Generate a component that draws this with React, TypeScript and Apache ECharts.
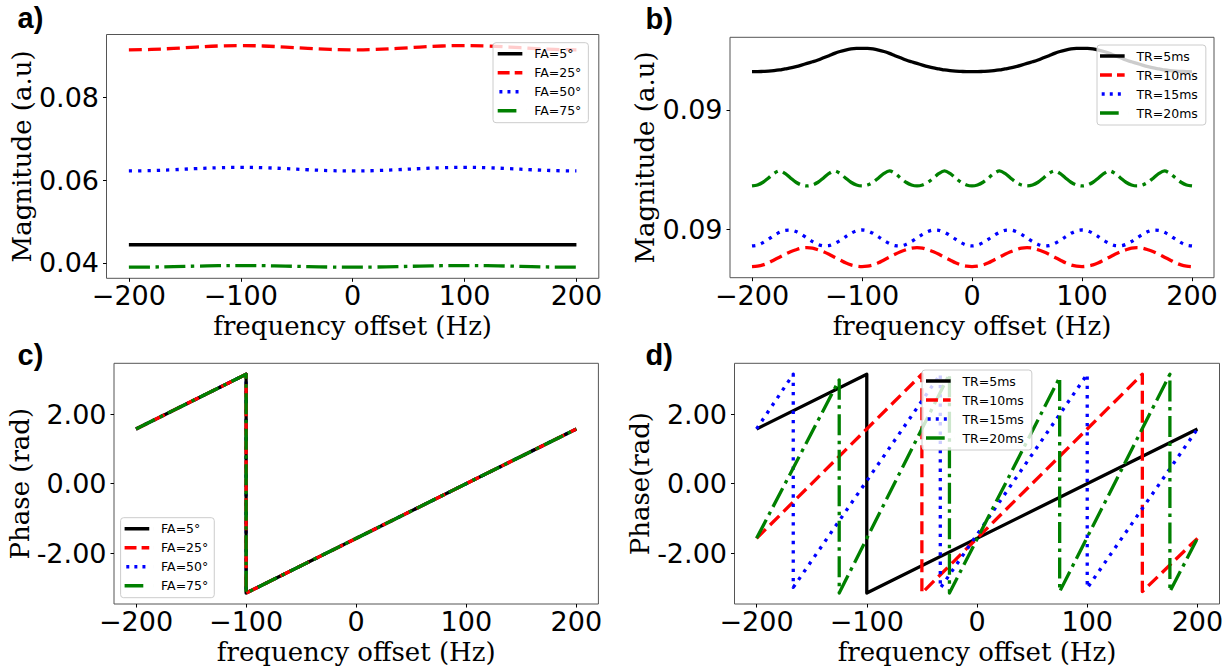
import React, { useEffect, useRef } from "react";
import * as echarts from "echarts";

// ---------- names, colours ----------
const FA_NAMES = ["FA=5°", "FA=25°", "FA=50°", "FA=75°"];
const TR_NAMES = ["TR=5ms", "TR=10ms", "TR=15ms", "TR=20ms"];
const COLORS = ["#000000", "#ff0000", "#0000ff", "#008000"];

// ---------- ticks ----------
const X_TICKS = [-200, -100, 0, 100, 200];
const A_Y_TICKS = [0.04, 0.06, 0.08];
const B_Y_TICKS = [0.089, 0.09];
const PHASE_TICKS = [-2, 0, 2];

// ---------- panel a: magnitude vs FA ----------
const F_A = [-200, -180, -160, -140, -120, -100, -80, -60, -40, -20, 0, 20, 40, 60, 80, 100, 120, 140, 160, 180, 200];
const A_FA5 = [0.04439, 0.04439, 0.04439, 0.04439, 0.04439, 0.04439, 0.04439, 0.04439, 0.04439, 0.04439, 0.04439, 0.04439, 0.04439, 0.04439, 0.04439, 0.04439, 0.04439, 0.04439, 0.04439, 0.04439, 0.04439];
const A_FA25 = [0.091583, 0.091681, 0.091939, 0.092258, 0.092516, 0.092614, 0.092516, 0.092258, 0.091939, 0.091681, 0.091583, 0.091681, 0.091939, 0.092258, 0.092516, 0.092614, 0.092516, 0.092258, 0.091939, 0.091681, 0.091583];
const A_FA50 = [0.062254, 0.062336, 0.062552, 0.06282, 0.063036, 0.063118, 0.063036, 0.06282, 0.062552, 0.062336, 0.062254, 0.062336, 0.062552, 0.06282, 0.063036, 0.063118, 0.063036, 0.06282, 0.062552, 0.062336, 0.062254];
const A_FA75 = [0.038945, 0.038984, 0.039086, 0.039212, 0.039314, 0.039353, 0.039314, 0.039212, 0.039086, 0.038984, 0.038945, 0.038984, 0.039086, 0.039212, 0.039314, 0.039353, 0.039314, 0.039212, 0.039086, 0.038984, 0.038945];

// ---------- panel b: magnitude vs TR (5 Hz sampling grid) ----------
const F_B = Array.from({ length: 81 }, (_, i) => -200 + 5 * i);
const B_TR5 = [
  0.090321, 0.090321, 0.090323, 0.090325, 0.090329, 0.090335, 0.090344, 0.090352, 0.090363, 0.090376, 0.09039, 0.090404, 0.090419, 0.090437, 0.090455, 0.090474, 0.09049, 0.090502, 0.090511, 0.090516, 0.090517,
  0.090516, 0.090511, 0.090502, 0.09049, 0.090474, 0.090455, 0.090437, 0.090419, 0.090404, 0.09039, 0.090376, 0.090363, 0.090352, 0.090344, 0.090335, 0.090329, 0.090325, 0.090323, 0.090321, 0.090321,
  0.090321, 0.090323, 0.090325, 0.090329, 0.090335, 0.090344, 0.090352, 0.090363, 0.090376, 0.09039, 0.090404, 0.090419, 0.090437, 0.090455, 0.090474, 0.09049, 0.090502, 0.090511, 0.090516, 0.090517,
  0.090516, 0.090511, 0.090502, 0.09049, 0.090474, 0.090455, 0.090437, 0.090419, 0.090404, 0.09039, 0.090376, 0.090363, 0.090352, 0.090344, 0.090335, 0.090329, 0.090325, 0.090323, 0.090321, 0.090321,
];
const B_TR10 = [
  0.088687, 0.088691, 0.088701, 0.088719, 0.088743, 0.088766, 0.08879, 0.088811, 0.088828, 0.088842, 0.088846, 0.088842, 0.088828, 0.088811, 0.08879, 0.088766, 0.088743, 0.088719, 0.088701, 0.088691,
  0.088687, 0.088691, 0.088701, 0.088719, 0.088743, 0.088766, 0.08879, 0.088811, 0.088828, 0.088842, 0.088846, 0.088842, 0.088828, 0.088811, 0.08879, 0.088766, 0.088743, 0.088719, 0.088701, 0.088691,
  0.088687, 0.088691, 0.088701, 0.088719, 0.088743, 0.088766, 0.08879, 0.088811, 0.088828, 0.088842, 0.088846, 0.088842, 0.088828, 0.088811, 0.08879, 0.088766, 0.088743, 0.088719, 0.088701, 0.088691,
  0.088687, 0.088691, 0.088701, 0.088719, 0.088743, 0.088766, 0.08879, 0.088811, 0.088828, 0.088842, 0.088846, 0.088842, 0.088828, 0.088811, 0.08879, 0.088766, 0.088743, 0.088719, 0.088701, 0.088691,
  0.088687,
];
const B_TR15 = [
  0.08886, 0.088867, 0.088888, 0.088917, 0.088948, 0.088974, 0.088991, 0.088993, 0.088981, 0.088957, 0.088927, 0.088897, 0.088873, 0.088861, 0.088863, 0.08888, 0.088906, 0.088937, 0.088966, 0.088987, 0.088994,
  0.088987, 0.088966, 0.088937, 0.088906, 0.08888, 0.088863, 0.088861, 0.088873, 0.088897, 0.088927, 0.088957, 0.088981, 0.088993, 0.088991, 0.088974, 0.088948, 0.088917, 0.088888, 0.088867, 0.08886,
  0.088867, 0.088888, 0.088917, 0.088948, 0.088974, 0.088991, 0.088993, 0.088981, 0.088957, 0.088927, 0.088897, 0.088873, 0.088861, 0.088863, 0.08888, 0.088906, 0.088937, 0.088966, 0.088987, 0.088994,
  0.088987, 0.088966, 0.088937, 0.088906, 0.08888, 0.088863, 0.088861, 0.088873, 0.088897, 0.088927, 0.088957, 0.088981, 0.088993, 0.088991, 0.088974, 0.088948, 0.088917, 0.088888, 0.088867, 0.08886,
];
const B_TR20 = [
  0.089363, 0.089371, 0.089394, 0.08943, 0.089468, 0.089489, 0.089468, 0.08943, 0.089394, 0.089371,
  0.089363, 0.089371, 0.089394, 0.08943, 0.089468, 0.089489, 0.089468, 0.08943, 0.089394, 0.089371,
  0.089363, 0.089371, 0.089394, 0.08943, 0.089468, 0.089489, 0.089468, 0.08943, 0.089394, 0.089371,
  0.089363, 0.089371, 0.089394, 0.08943, 0.089468, 0.089489, 0.089468, 0.08943, 0.089394, 0.089371,
  0.089363, 0.089371, 0.089394, 0.08943, 0.089468, 0.089489, 0.089468, 0.08943, 0.089394, 0.089371,
  0.089363, 0.089371, 0.089394, 0.08943, 0.089468, 0.089489, 0.089468, 0.08943, 0.089394, 0.089371,
  0.089363, 0.089371, 0.089394, 0.08943, 0.089468, 0.089489, 0.089468, 0.08943, 0.089394, 0.089371,
  0.089363, 0.089371, 0.089394, 0.08943, 0.089468, 0.089489, 0.089468, 0.08943, 0.089394, 0.089371,
  0.089363,
];

// ---------- panel c: phase vs FA (vertices) ----------
const C_F = [-200, -100, -100, 200];
const C_FA5 = [1.571, 3.142, -3.142, 1.571];
const C_FA25 = [1.571, 3.142, -3.142, 1.571];
const C_FA50 = [1.571, 3.142, -3.142, 1.571];
const C_FA75 = [1.571, 3.142, -3.142, 1.571];

// ---------- panel d: phase vs TR (vertices) ----------
const D_TR5_F = [-200, -100, -100, 200];
const D_TR5 = [1.571, 3.142, -3.142, 1.571];
const D_TR10_F = [-200, -50, -50, 150, 150, 200];
const D_TR10 = [-1.571, 3.142, -3.142, 3.142, -3.1, -1.571];
const D_TR15_F = [-200, -166.7, -166.7, -33.3, -33.3, 100, 100, 200];
const D_TR15 = [1.571, 3.142, -2.98, 3.142, -3.0, 3.142, -3.0, 1.571];
const D_TR20_F = [-200, -125, -125, -25, -25, 75, 75, 175, 175, 200];
const D_TR20 = [-1.571, 2.98, -3.142, 3.142, -3.142, 3.05, -3.1, 3.142, -3.1, -1.571];

// ---------- styles ----------
const LINE_TYPES: any[] = ["solid", [13, 6], [3.3, 6], [21, 5.5, 3.5, 5.5]];
const ICONS = [
  "path://M0,0H29V4H0Z M33.99,0H34V4H33.99Z",
  "path://M0,0H14V4H0Z M20,0H29V4H20Z M33.99,0H34V4H33.99Z",
  "path://M0,0H0.01V4H0Z M2,0H5.5V4H2Z M11.5,0H15V4H11.5Z M21,0H24.5V4H21Z M33.99,0H34V4H33.99Z",
  "path://M0,0H22V4H0Z M33.99,0H34V4H33.99Z",
];
const SANS = "DejaVu Sans";
const SERIF = "DejaVu Serif";

const fmtX = (v: number) => (v < 0 ? "\u2212" + Math.abs(v) : String(v));
const fmt2 = (v: number) => v.toFixed(2);

function grid(left: number, top: number, width: number, height: number) {
  return { left, top, width, height, show: true, borderColor: "#555", borderWidth: 1, backgroundColor: "transparent", containLabel: false };
}

function xAxis(gridIndex: number) {
  return {
    type: "value", gridIndex, min: -220, max: 220, position: "bottom",
    name: "frequency offset (Hz)", nameLocation: "middle", nameGap: 35,
    nameTextStyle: { fontFamily: SERIF, fontSize: 26, color: "#000" },
    axisLine: { show: false, onZero: false },
    axisTick: { show: true, inside: false, length: 3.5, customValues: X_TICKS, lineStyle: { color: "#000", width: 1 } },
    axisLabel: { customValues: X_TICKS, formatter: fmtX, fontFamily: SANS, fontSize: 27, color: "#000", margin: 4 },
    splitLine: { show: false },
  };
}

function yAxis(gridIndex: number, name: string, min: number, max: number, ticks: number[], nameGap: number) {
  return {
    type: "value", gridIndex, min, max, scale: true, position: "left",
    name, nameLocation: "middle", nameGap, nameRotate: 90,
    nameTextStyle: { fontFamily: SERIF, fontSize: 26, color: "#000" },
    axisLine: { show: false, onZero: false },
    axisTick: { show: true, inside: false, length: 3.5, customValues: ticks, lineStyle: { color: "#000", width: 1 } },
    axisLabel: { customValues: ticks, formatter: fmt2, fontFamily: SANS, fontSize: 27, color: "#000", margin: 7.5 },
    splitLine: { show: false },
  };
}

function legend(names: string[], left: number, top: number, padding: number[]) {
  return {
    show: true, orient: "vertical", align: "left", left, top, padding,
    selectedMode: false,
    itemWidth: 34, itemHeight: 3.4, itemGap: 0,
    backgroundColor: "rgba(255,255,255,0.8)", borderColor: "#cccccc", borderWidth: 1, borderRadius: 3,
    itemStyle: { borderWidth: 0 },
    textStyle: { fontFamily: SANS, fontSize: 12.5, color: "#000", lineHeight: 19 },
    data: names.map((n, i) => ({ name: n, icon: ICONS[i] })),
  };
}

function series(name: string, i: number, axis: number, xs: number[], ys: number[], smooth: number | boolean) {
  return {
    type: "line", name, xAxisIndex: axis, yAxisIndex: axis,
    data: xs.map((x, k) => [x, ys[k]]),
    symbol: "none", showSymbol: false, smooth, silent: true,
    lineStyle: { color: COLORS[i], width: 3.3, type: LINE_TYPES[i], cap: "butt", join: "round" },
    itemStyle: { color: COLORS[i] },
    emphasis: { disabled: true },
  };
}

function panelLabel(text: string, x: number, y: number) {
  return {
    type: "text", x, y, silent: true,
    style: { text, font: "bold 29px 'Liberation Sans'", fill: "#000", verticalAlign: "middle", textVerticalAlign: "middle" },
  };
}

export default function App() {
  const ref = useRef<HTMLDivElement>(null);
  useEffect(() => {
    if (!ref.current) return;
    const chart = echarts.init(ref.current, undefined, { renderer: "svg" });
    const aSeries = [A_FA5, A_FA25, A_FA50, A_FA75];
    const bSeries = [B_TR5, B_TR10, B_TR15, B_TR20];
    const cSeries = [C_FA5, C_FA25, C_FA50, C_FA75];
    const cOrder = [2, 0, 1, 3]; // FA=50° lies underneath the others
    const dF = [D_TR5_F, D_TR10_F, D_TR15_F, D_TR20_F];
    const dSeries = [D_TR5, D_TR10, D_TR15, D_TR20];
    chart.setOption({
      animation: false,
      backgroundColor: "#ffffff",
      grid: [
        grid(106.5, 34.5, 492.3, 243.8),
        grid(730, 37.3, 484, 240.4),
        grid(114, 363.3, 484.4, 240.7),
        grid(734.5, 363.3, 485, 240.7),
      ],
      xAxis: [xAxis(0), xAxis(1), xAxis(2), xAxis(3)],
      yAxis: [
        yAxis(0, "Magnitude (a.u)", 0.03626, 0.0953, A_Y_TICKS, 70.5),
        yAxis(1, "Magnitude (a.u)", 0.088594, 0.090609, B_Y_TICKS, 68.7),
        yAxis(2, "Phase (rad)", -3.456, 3.456, PHASE_TICKS, 77.7),
        yAxis(3, "Phase(rad)", -3.456, 3.456, PHASE_TICKS, 76),
      ],
      legend: [
        legend(FA_NAMES, 493, 42.7, [1.5, 7, 2.5, 4.7]),
        legend(TR_NAMES, 1097, 45, [1.5, 8, 2.5, 3]),
        legend(FA_NAMES, 120.6, 517.7, [1.5, 6, 2.5, 4]),
        legend(TR_NAMES, 922, 370, [1.5, 8, 2.5, 4]),
      ],
      graphic: [
        panelLabel("a)", 17.5, 18.2),
        panelLabel("b)", 645.6, 18.7),
        panelLabel("c)", 17.5, 354.9),
        panelLabel("d)", 645.6, 354.9),
      ],
      series: [
        ...aSeries.map((ys, i) => series(FA_NAMES[i], i, 0, F_A, ys, 0.4)),
        ...bSeries.map((ys, i) => series(TR_NAMES[i], i, 1, F_B, ys, 0.3)),
        ...cOrder.map((i) => series(FA_NAMES[i], i, 2, C_F, cSeries[i], false)),
        ...dSeries.map((ys, i) => series(TR_NAMES[i], i, 3, dF[i], ys, false)),
      ],
    });
    return () => chart.dispose();
  }, []);
  return (
    <div
      ref={ref}
      style={{ position: "fixed", left: 0, top: 0, width: 1229, height: 668, background: "#fff" }}
    />
  );
}
